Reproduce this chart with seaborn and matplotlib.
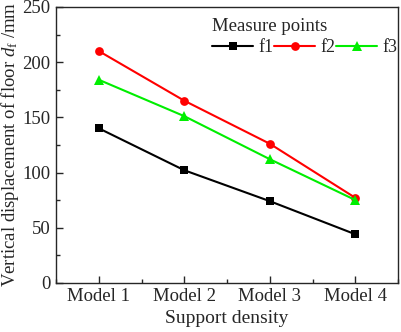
import matplotlib
matplotlib.use("Agg")
import matplotlib.pyplot as plt
import seaborn as sns
import pandas as pd
from matplotlib.ticker import MultipleLocator

models = ["Model 1", "Model 2", "Model 3", "Model 4"]
f1 = [140, 102, 74, 44]
f2 = [210, 165, 126, 77]
f3 = [184, 151, 112, 75]
series_names = ["f1", "f2", "f3"]

rows = []
for name, vals in zip(series_names, [f1, f2, f3]):
    for i, v in enumerate(vals):
        rows.append({"x": i, "value": v, "series": name})
df = pd.DataFrame(rows)

sns.set_style("ticks")
plt.rcParams['font.family'] = ['Liberation Serif', 'DejaVu Serif']
plt.rcParams['mathtext.fontset'] = 'custom'
plt.rcParams['mathtext.rm'] = 'Liberation Serif'
plt.rcParams['mathtext.it'] = 'Liberation Serif:italic'

fig, ax = plt.subplots(figsize=(4.01, 3.32), dpi=100)
palette = {"f1": "#000000", "f2": "#ff0000", "f3": "#00ee00"}
markers = {"f1": "s", "f2": "o", "f3": "^"}
sns.lineplot(data=df, x="x", y="value", hue="series", style="series",
             palette=palette, markers=markers, dashes=False, ax=ax,
             linewidth=1.5, markersize=6, markeredgewidth=0, legend=False)

sizes = {"f1": 5.6, "f2": 6.3, "f3": 7.5}
handles = []
for line, name in zip(ax.lines[:3], series_names):
    line.set_markersize(sizes[name])
    handles.append(line)

ax.set_xlim(-0.5, 3.5)
ax.set_ylim(0, 250)
ax.set_xticks(range(len(models)))
ax.set_xticklabels(models)
ax.xaxis.set_minor_locator(MultipleLocator(0.5))
ax.yaxis.set_major_locator(MultipleLocator(50))
ax.yaxis.set_minor_locator(MultipleLocator(25))
ax.tick_params(axis='both', which='both', direction='in', labelsize=13.5)
ax.tick_params(which='major', length=5, width=1, pad=4)
ax.tick_params(which='minor', length=3, width=1)
for s in ax.spines.values():
    s.set_linewidth(1)
    s.set_visible(True)
ax.set_xlabel("Support density", fontsize=14, labelpad=3)
ax.set_ylabel(r"Vertical displacement of floor $d_\mathrm{f}$ /mm", fontsize=13.5, labelpad=1)

leg = ax.legend(handles, series_names, title="Measure points", ncol=3, frameon=False,
                fontsize=13, title_fontsize=13.5, loc="upper right",
                bbox_to_anchor=(1.02, 0.985),
                handlelength=2.3, handletextpad=0.3, columnspacing=0.0,
                borderaxespad=0.2, borderpad=0.2, labelspacing=0.2)
leg._legend_box.align = "left"

fig.subplots_adjust(left=0.140, right=0.993, top=0.979, bottom=0.148)
fig.savefig("out.png", dpi=100)
